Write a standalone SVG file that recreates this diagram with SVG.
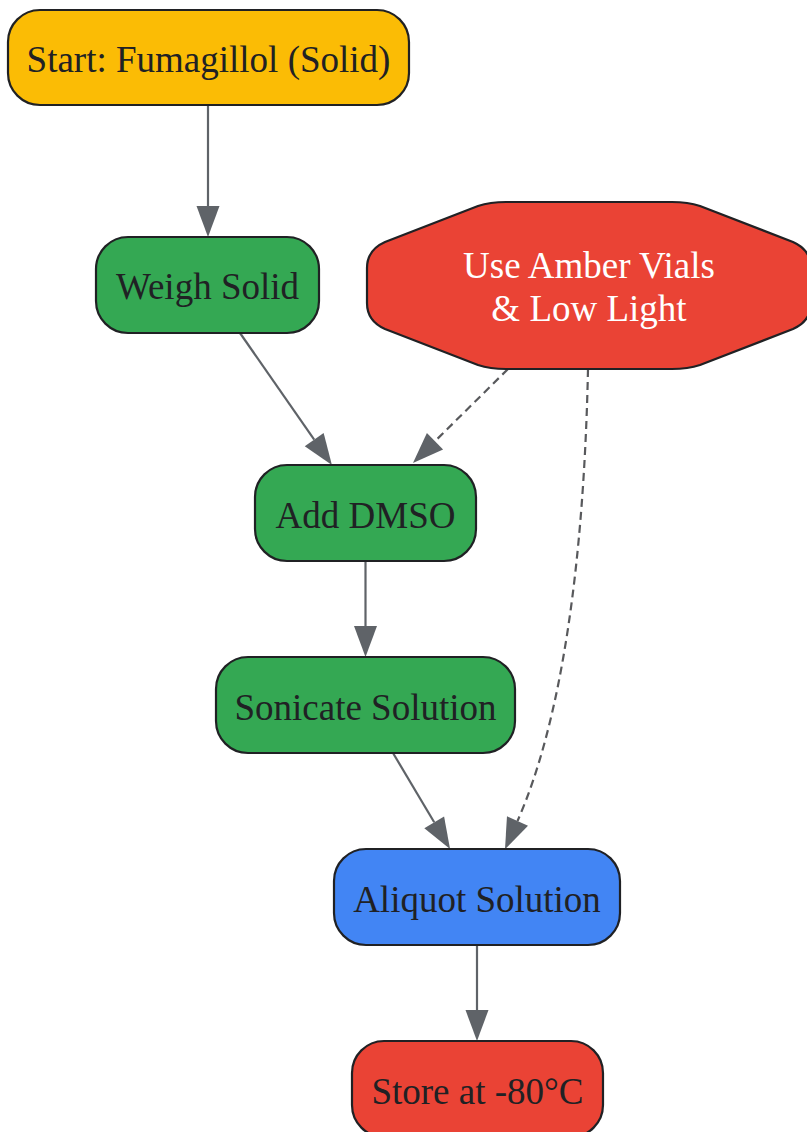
<svg xmlns="http://www.w3.org/2000/svg" width="807" height="1132" viewBox="0 0 807 1132">
<style>
.n{stroke:#202124;stroke-width:2.2}
.t{font-family:"Liberation Serif","Times New Roman",serif;font-size:37px;text-anchor:middle;fill:#202124}
.w{fill:#ffffff}
.e{fill:none;stroke:#5f6368;stroke-width:2.2}
.d{stroke-dasharray:8,5;stroke:#58595c}
</style>
<defs>
<marker id="a" markerUnits="userSpaceOnUse" markerWidth="31" markerHeight="23" refX="0" refY="11.5" orient="auto" overflow="visible">
<path d="M0,0 L31,11.5 L0,23 z" fill="#5f6368"/>
</marker>
</defs>
<rect width="807" height="1132" fill="#ffffff"/>
<g id="edges">
<path class="e" d="M208,105 L208,206" marker-end="url(#a)"/>
<path class="e" d="M240,333 L314.2,439.6" marker-end="url(#a)"/>
<path class="e d" d="M508,369 L435,441.2" marker-end="url(#a)"/>
<path class="e" d="M365.5,561 L365.5,626" marker-end="url(#a)"/>
<path class="e" d="M393,753 L434.2,822.3" marker-end="url(#a)"/>
<path class="e d" d="M588,369 C584,560 562,720 517.5,821" marker-end="url(#a)"/>
<path class="e" d="M477,945 L477,1010" marker-end="url(#a)"/>
</g>
<g id="start">
<rect class="n" x="8" y="10" width="401" height="95" rx="32" fill="#fbbc05"/>
<text class="t" x="208.5" y="72">Start: Fumagillol (Solid)</text>
</g>
<g id="weigh">
<rect class="n" x="96" y="237" width="223" height="96" rx="32" fill="#34a853"/>
<text class="t" x="207.5" y="299">Weigh Solid</text>
</g>
<g id="amber">
<path class="n" fill="#ea4335" stroke-linejoin="round" d="M367,268 Q367,250 385,242 L478,206 Q490,202 506,202 L672,202 Q688,202 700,206 L793,242 Q811,250 811,268 L811,303 Q811,321 793,329 L700,365 Q688,369 672,369 L506,369 Q490,369 478,365 L385,329 Q367,321 367,303 Z"/>
<text class="t w" x="589" y="278">Use Amber Vials</text>
<text class="t w" x="589" y="321">&amp; Low Light</text>
</g>
<g id="dmso">
<rect class="n" x="255" y="465" width="221" height="96" rx="32" fill="#34a853"/>
<text class="t" x="365.5" y="528">Add DMSO</text>
</g>
<g id="sonicate">
<rect class="n" x="216" y="657" width="299" height="96" rx="32" fill="#34a853"/>
<text class="t" x="365.5" y="720">Sonicate Solution</text>
</g>
<g id="aliquot">
<rect class="n" x="334" y="849" width="286" height="96" rx="32" fill="#4285f4"/>
<text class="t" x="477" y="912">Aliquot Solution</text>
</g>
<g id="store">
<rect class="n" x="352" y="1041" width="251" height="96" rx="32" fill="#ea4335"/>
<text class="t" x="477.5" y="1104">Store at -80°C</text>
</g>
</svg>
